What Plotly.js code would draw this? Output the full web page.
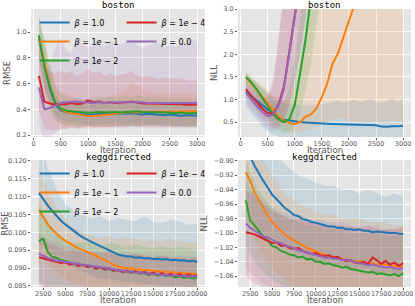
<!DOCTYPE html>
<html>
<head>
<meta charset="utf-8">
<script src="https://cdn.plot.ly/plotly-3.0.1.min.js"></script>
<style>
  html, body { margin: 0; padding: 0; background: #fff; }
  #chart { width: 415px; height: 306px; }
</style>
</head>
<body>
<div id="chart"></div>
<script>
// series labels / colours (matplotlib tab10)
const betaLabels = ['<i>β</i> = 1.0', '<i>β</i> = 1<i>e</i> − 1', '<i>β</i> = 1<i>e</i> − 2', '<i>β</i> = 1<i>e</i> − 4', '<i>β</i> = 0.0'];
const betaColors = ['#1f77b4', '#ff7f0e', '#2ca02c', '#d62728', '#9467bd'];
const legendOrder = [1, 3, 5, 2, 4];

// ---- boston ----
const bostonIter = [100, 200, 300, 400, 500, 600, 700, 800, 900, 1000, 1100, 1200, 1300, 1400, 1500,
    1600, 1700, 1800, 1900, 2000, 2100, 2200, 2300, 2400, 2500, 2600, 2700, 2800, 2900, 3000];

const bostonRmse1 = [0.95, 0.75, 0.56, 0.44, 0.39, 0.38, 0.375, 0.37, 0.365, 0.355, 0.36, 0.365, 0.37, 0.365, 0.37, 0.37, 0.365, 0.37, 0.365, 0.36, 0.365, 0.36, 0.36, 0.355, 0.36, 0.355, 0.35, 0.355, 0.355, 0.352];
const bostonRmse1e1 = [0.96, 0.76, 0.58, 0.46, 0.40, 0.38, 0.37, 0.36, 0.355, 0.347, 0.35, 0.355, 0.36, 0.36, 0.37, 0.37, 0.375, 0.38, 0.375, 0.38, 0.38, 0.385, 0.38, 0.385, 0.38, 0.385, 0.385, 0.38, 0.385, 0.385];
const bostonRmse1e2 = [0.975, 0.73, 0.575, 0.45, 0.407, 0.39, 0.385, 0.38, 0.375, 0.373, 0.375, 0.38, 0.375, 0.38, 0.38, 0.375, 0.38, 0.38, 0.385, 0.38, 0.38, 0.375, 0.38, 0.375, 0.375, 0.37, 0.375, 0.37, 0.37, 0.372];
const bostonRmse1e4 = [0.66, 0.46, 0.445, 0.435, 0.44, 0.44, 0.45, 0.44, 0.445, 0.47, 0.455, 0.46, 0.45, 0.455, 0.45, 0.45, 0.455, 0.46, 0.45, 0.445, 0.445, 0.445, 0.44, 0.445, 0.44, 0.44, 0.44, 0.435, 0.435, 0.438];
const bostonRmse0 = [0.57, 0.40, 0.41, 0.43, 0.45, 0.455, 0.46, 0.46, 0.455, 0.45, 0.45, 0.455, 0.45, 0.455, 0.455, 0.455, 0.46, 0.46, 0.455, 0.455, 0.45, 0.45, 0.45, 0.45, 0.45, 0.45, 0.45, 0.445, 0.45, 0.45];

const bostonRmseHi1 = [1.10, 0.92, 0.68, 0.52, 0.46, 0.45, 0.44, 0.44, 0.44, 0.43, 0.44, 0.44, 0.45, 0.44, 0.45, 0.45, 0.44, 0.45, 0.44, 0.44, 0.44, 0.44, 0.43, 0.43, 0.44, 0.43, 0.43, 0.43, 0.43, 0.43];
const bostonRmseLo1 = [0.80, 0.58, 0.44, 0.36, 0.32, 0.31, 0.30, 0.30, 0.29, 0.28, 0.28, 0.29, 0.29, 0.29, 0.29, 0.29, 0.28, 0.29, 0.28, 0.28, 0.28, 0.28, 0.28, 0.27, 0.28, 0.27, 0.27, 0.27, 0.27, 0.27];
const bostonRmseHi1e1 = [1.12, 0.95, 0.76, 0.60, 0.54, 0.52, 0.50, 0.48, 0.47, 0.46, 0.47, 0.48, 0.49, 0.50, 0.52, 0.53, 0.55, 0.60, 0.58, 0.55, 0.54, 0.53, 0.52, 0.53, 0.52, 0.52, 0.53, 0.52, 0.53, 0.52];
const bostonRmseLo1e1 = [0.80, 0.57, 0.40, 0.32, 0.28, 0.27, 0.26, 0.26, 0.25, 0.25, 0.25, 0.26, 0.26, 0.26, 0.27, 0.27, 0.27, 0.28, 0.27, 0.28, 0.28, 0.28, 0.28, 0.28, 0.28, 0.28, 0.28, 0.28, 0.28, 0.28];
const bostonRmseHi1e2 = [1.14, 0.92, 0.74, 0.58, 0.52, 0.50, 0.49, 0.49, 0.48, 0.48, 0.49, 0.50, 0.49, 0.50, 0.50, 0.49, 0.50, 0.50, 0.51, 0.50, 0.50, 0.49, 0.50, 0.49, 0.49, 0.48, 0.49, 0.48, 0.48, 0.49];
const bostonRmseLo1e2 = [0.81, 0.55, 0.41, 0.32, 0.29, 0.28, 0.28, 0.27, 0.27, 0.27, 0.27, 0.27, 0.27, 0.27, 0.27, 0.27, 0.27, 0.27, 0.27, 0.27, 0.27, 0.27, 0.27, 0.27, 0.27, 0.26, 0.27, 0.26, 0.26, 0.26];
const bostonRmseHi1e4 = [0.92, 0.72, 0.70, 0.68, 0.70, 0.68, 0.70, 0.66, 0.68, 0.72, 0.68, 0.70, 0.66, 0.68, 0.66, 0.67, 0.68, 0.70, 0.66, 0.65, 0.66, 0.65, 0.64, 0.65, 0.64, 0.64, 0.64, 0.63, 0.62, 0.63];
const bostonRmseLo1e4 = [0.40, 0.25, 0.24, 0.24, 0.25, 0.25, 0.26, 0.25, 0.26, 0.27, 0.26, 0.26, 0.26, 0.26, 0.26, 0.26, 0.26, 0.27, 0.26, 0.26, 0.26, 0.26, 0.26, 0.26, 0.26, 0.26, 0.26, 0.26, 0.26, 0.26];
const bostonRmseHi0 = [0.85, 0.70, 0.75, 0.88, 0.96, 0.86, 0.84, 0.96, 0.90, 0.88, 0.90, 0.92, 0.88, 0.93, 0.92, 0.90, 0.93, 0.95, 0.90, 0.88, 0.90, 0.91, 0.92, 0.88, 0.90, 0.89, 0.91, 0.92, 0.94, 0.93];
const bostonRmseLo0 = [0.29, 0.15, 0.17, 0.22, 0.24, 0.25, 0.26, 0.25, 0.26, 0.26, 0.26, 0.26, 0.26, 0.26, 0.26, 0.26, 0.26, 0.26, 0.26, 0.26, 0.26, 0.26, 0.26, 0.26, 0.26, 0.26, 0.26, 0.26, 0.26, 0.26];

const bostonNll1 = [1.17, 1.08, 0.98, 0.88, 0.78, 0.68, 0.60, 0.55, 0.53, 0.51, 0.50, 0.49, 0.48, 0.475, 0.47, 0.465, 0.46, 0.455, 0.45, 0.445, 0.44, 0.435, 0.43, 0.43, 0.43, 0.40, 0.395, 0.41, 0.405, 0.42];
const bostonNll1e1 = [1.48, 1.36, 1.22, 1.07, 0.92, 0.78, 0.63, 0.54, 0.48, 0.46, 0.50, 0.62, 0.67, 0.80, 1.05, 1.35, 1.80, 2.02, 2.35, 2.70, 3.05, 3.45, 3.90, 4.30, 4.80, 5.20, 5.70, 6.10, 6.60, 7.00];
const bostonNll1e2 = [1.50, 1.38, 1.22, 1.03, 0.85, 0.68, 0.56, 0.50, 0.56, 0.87, 1.58, 2.32, 3.25, 4.10, 5.00, 5.90, 6.70, 7.50, 8.30, 9.00, 9.80, 10.5, 11.2, 11.9, 12.6, 13.2, 13.9, 14.5, 15.2, 15.8];
const bostonNll1e4 = [1.23, 1.08, 0.93, 0.80, 0.70, 0.68, 0.88, 1.28, 2.05, 2.85, 3.70, 4.60, 5.50, 6.40, 7.30, 8.10, 9.00, 9.80, 10.6, 11.4, 12.2, 13.0, 13.7, 14.5, 15.2, 16.0, 16.7, 17.4, 18.1, 18.8];
const bostonNll0 = [1.15, 1.00, 0.86, 0.73, 0.63, 0.66, 0.85, 1.22, 2.00, 2.80, 3.60, 4.50, 5.40, 6.30, 7.10, 8.00, 8.80, 9.60, 10.4, 11.2, 12.0, 12.8, 13.5, 14.3, 15.0, 15.8, 16.5, 17.2, 17.9, 18.6];

const bostonNllHi1 = [1.55, 1.45, 1.35, 1.25, 1.15, 1.05, 0.98, 0.93, 0.90, 0.88, 0.86, 0.86, 0.87, 0.88, 0.90, 0.92, 0.95, 0.97, 0.93, 0.96, 1.00, 0.94, 0.98, 1.02, 0.95, 0.92, 0.97, 1.05, 0.95, 1.02];
const bostonNllLo1 = [0.85, 0.70, 0.55, 0.40, 0.30, 0.22, 0.18, 0.16, 0.15, 0.15, 0.15, 0.15, 0.15, 0.15, 0.15, 0.15, 0.15, 0.15, 0.15, 0.15, 0.15, 0.15, 0.15, 0.15, 0.15, 0.15, 0.15, 0.15, 0.15, 0.15];
const bostonNllHi1e1 = [1.60, 1.50, 1.42, 1.32, 1.22, 1.12, 1.02, 0.98, 1.05, 1.30, 1.80, 2.60, 3.50, 4.50, 5.50, 6.50, 7.50, 8.50, 9.50, 10.5, 11.5, 12.5, 13.5, 14.5, 15.5, 16.5, 17.5, 18.5, 19.5, 20.5];
const bostonNllLo1e1 = [1.35, 1.20, 1.02, 0.85, 0.68, 0.52, 0.40, 0.32, 0.28, 0.26, 0.28, 0.32, 0.36, 0.40, 0.45, 0.50, 0.55, 0.60, 0.55, 0.50, 0.52, 0.50, 0.48, 0.50, 0.52, 0.48, 0.50, 0.52, 0.50, 0.50];
const bostonNllHi1e2 = [1.62, 1.50, 1.38, 1.25, 1.12, 1.00, 0.92, 0.95, 1.25, 1.90, 2.80, 3.80, 5.00, 6.00, 7.00, 8.00, 9.00, 10.0, 11.0, 12.0, 13.0, 14.0, 15.0, 16.0, 17.0, 18.0, 19.0, 20.0, 21.0, 22.0];
const bostonNllLo1e2 = [1.38, 1.25, 1.06, 0.82, 0.60, 0.42, 0.30, 0.25, 0.28, 0.40, 0.70, 1.20, 1.80, 2.60, 3.50, 4.50, 5.40, 6.30, 7.20, 8.00, 8.80, 9.60, 10.4, 11.2, 12.0, 12.8, 13.6, 14.4, 15.2, 16.0];
const bostonNllHi1e4 = [1.40, 1.28, 1.15, 1.05, 1.05, 1.40, 2.40, 3.50, 4.60, 5.60, 6.60, 7.60, 8.60, 9.60, 10.6, 11.6, 12.6, 13.6, 14.6, 15.6, 16.6, 17.6, 18.6, 19.6, 20.6, 21.6, 22.6, 23.6, 24.6, 25.6];
const bostonNllLo1e4 = [1.05, 0.88, 0.72, 0.58, 0.45, 0.35, 0.40, 0.55, 0.90, 1.40, 2.00, 2.80, 3.60, 4.40, 5.20, 6.00, 6.80, 7.60, 8.40, 9.20, 10.0, 10.8, 11.6, 12.4, 13.2, 14.0, 14.8, 15.6, 16.4, 17.2];
const bostonNllHi0 = [1.35, 1.22, 1.10, 1.00, 1.00, 1.30, 2.20, 3.30, 4.40, 5.40, 6.40, 7.40, 8.40, 9.40, 10.4, 11.4, 12.4, 13.4, 14.4, 15.4, 16.4, 17.4, 18.4, 19.4, 20.4, 21.4, 22.4, 23.4, 24.4, 25.4];
const bostonNllLo0 = [0.95, 0.78, 0.62, 0.48, 0.36, 0.30, 0.35, 0.50, 0.85, 1.35, 2.00, 2.80, 3.60, 4.40, 5.20, 6.00, 6.80, 7.60, 8.40, 9.20, 10.0, 10.8, 11.6, 12.4, 13.2, 14.0, 14.8, 15.6, 16.4, 17.2];

// ---- keggdirected ----
const keggIter = [2000, 2500, 3000, 3500, 4000, 4500, 5000, 5500, 6000, 6500, 7000, 7500, 8000, 8500, 9000, 9500, 10000, 10500, 11000,
    11500, 12000, 12500, 13000, 13500, 14000, 14500, 15000, 15500, 16000, 16500, 17000, 17500, 18000, 18500, 19000, 19500, 20000];
const keggBandIter = [2000, 3000, 4000, 5000, 6000, 7000, 8000, 9000, 10000, 11000, 12000, 13000, 14000, 15000, 16000, 17000, 18000, 19000, 20000];

const keggRmse1 = [0.1110, 0.1092, 0.1075, 0.1060, 0.1046, 0.1033, 0.1022, 0.1012, 0.1002, 0.0994, 0.0986, 0.0979, 0.0972, 0.0967, 0.0961, 0.0956, 0.0950, 0.0944, 0.0938,
    0.0935, 0.0932, 0.0932, 0.0929, 0.0930, 0.0927, 0.0928, 0.0925, 0.0926, 0.0924, 0.0925, 0.0922, 0.0923, 0.0921, 0.0922, 0.0919, 0.0920, 0.0917];
const keggRmse1e1 = [0.1062, 0.1040, 0.1022, 0.1008, 0.0996, 0.0985, 0.0976, 0.0968, 0.0962, 0.0955, 0.0951, 0.0945, 0.0940, 0.0935, 0.0928, 0.0922, 0.0916, 0.0910, 0.0903,
    0.0902, 0.0899, 0.0900, 0.0896, 0.0897, 0.0894, 0.0895, 0.0891, 0.0892, 0.0889, 0.0891, 0.0887, 0.0888, 0.0885, 0.0887, 0.0884, 0.0885, 0.0882];
const keggRmse1e2 = [0.0975, 0.0982, 0.0945, 0.0932, 0.0928, 0.0922, 0.0920, 0.0915, 0.0913, 0.0908, 0.0910, 0.0904, 0.0905, 0.0899, 0.0901, 0.0896, 0.0897, 0.0892, 0.0894,
    0.0889, 0.0891, 0.0886, 0.0889, 0.0884, 0.0887, 0.0881, 0.0884, 0.0879, 0.0882, 0.0878, 0.0880, 0.0874, 0.0877, 0.0872, 0.0875, 0.0871, 0.0873];
const keggRmse1e4 = [0.0930, 0.0927, 0.0925, 0.0921, 0.0919, 0.0914, 0.0916, 0.0910, 0.0912, 0.0906, 0.0909, 0.0903, 0.0905, 0.0899, 0.0902, 0.0896, 0.0899, 0.0893, 0.0895,
    0.0890, 0.0892, 0.0888, 0.0891, 0.0886, 0.0889, 0.0884, 0.0887, 0.0882, 0.0886, 0.0880, 0.0884, 0.0879, 0.0883, 0.0877, 0.0882, 0.0878, 0.0880];
const keggRmse0 = [0.0940, 0.0934, 0.0928, 0.0925, 0.0920, 0.0921, 0.0916, 0.0917, 0.0911, 0.0913, 0.0907, 0.0909, 0.0903, 0.0905, 0.0900, 0.0902, 0.0896, 0.0898, 0.0892,
    0.0894, 0.0889, 0.0891, 0.0886, 0.0888, 0.0884, 0.0886, 0.0882, 0.0884, 0.0880, 0.0882, 0.0878, 0.0881, 0.0877, 0.0879, 0.0876, 0.0878, 0.0875];

const keggRmseHi1 = [0.125, 0.118, 0.112, 0.108, 0.106, 0.105, 0.104, 0.1045, 0.103, 0.104, 0.1035, 0.103, 0.1045, 0.103, 0.1025, 0.1035, 0.103, 0.102, 0.1025];
const keggRmseLo1 = [0.097, 0.095, 0.093, 0.091, 0.090, 0.089, 0.088, 0.087, 0.087, 0.0865, 0.086, 0.086, 0.0855, 0.0855, 0.085, 0.085, 0.085, 0.0845, 0.0845];
const keggRmseHi1e1 = [0.118, 0.112, 0.107, 0.104, 0.101, 0.100, 0.099, 0.0985, 0.099, 0.098, 0.0985, 0.098, 0.0975, 0.098, 0.0975, 0.098, 0.0975, 0.097, 0.0975];
const keggRmseLo1e1 = [0.094, 0.091, 0.089, 0.087, 0.086, 0.085, 0.084, 0.0835, 0.083, 0.083, 0.0825, 0.0825, 0.082, 0.082, 0.082, 0.0815, 0.0815, 0.0815, 0.081];
const keggRmseHi1e2 = [0.108, 0.103, 0.100, 0.098, 0.097, 0.097, 0.0975, 0.096, 0.097, 0.0965, 0.096, 0.0965, 0.096, 0.0955, 0.096, 0.0955, 0.096, 0.0955, 0.095];
const keggRmseLo1e2 = [0.086, 0.084, 0.083, 0.082, 0.082, 0.0815, 0.081, 0.081, 0.0805, 0.0805, 0.080, 0.080, 0.080, 0.0795, 0.0795, 0.079, 0.079, 0.079, 0.0785];
const keggRmseHi1e4 = [0.099, 0.097, 0.096, 0.095, 0.095, 0.0945, 0.0945, 0.094, 0.0945, 0.094, 0.0935, 0.094, 0.0935, 0.093, 0.0935, 0.093, 0.093, 0.0925, 0.093];
const keggRmseLo1e4 = [0.085, 0.084, 0.083, 0.082, 0.0815, 0.081, 0.081, 0.0805, 0.080, 0.080, 0.0795, 0.0795, 0.079, 0.079, 0.0785, 0.0785, 0.078, 0.078, 0.078];
const keggRmseHi0 = [0.100, 0.098, 0.097, 0.096, 0.0955, 0.095, 0.095, 0.0945, 0.095, 0.094, 0.0945, 0.094, 0.0935, 0.094, 0.0935, 0.093, 0.0935, 0.093, 0.093];
const keggRmseLo0 = [0.086, 0.084, 0.083, 0.082, 0.0815, 0.081, 0.0805, 0.080, 0.080, 0.0795, 0.0795, 0.079, 0.079, 0.0785, 0.0785, 0.078, 0.078, 0.0775, 0.0775];

const keggNll1 = [-0.885, -0.895, -0.907, -0.918, -0.928, -0.937, -0.947, -0.953, -0.960, -0.966, -0.970, -0.975, -0.977, -0.981, -0.982, -0.985, -0.986, -0.988, -0.989,
    -0.991, -0.991, -0.993, -0.993, -0.995, -0.995, -0.996, -0.995, -0.997, -0.997, -0.999, -0.998, -0.999, -0.999, -1.000, -1.000, -1.001, -1.002];
const keggNll1e1 = [-0.916, -0.928, -0.944, -0.955, -0.966, -0.976, -0.985, -0.991, -0.998, -1.003, -1.007, -1.011, -1.014, -1.017, -1.021, -1.023, -1.026, -1.028, -1.031,
    -1.032, -1.034, -1.036, -1.036, -1.038, -1.038, -1.040, -1.039, -1.041, -1.042, -1.042, -1.044, -1.043, -1.045, -1.046, -1.045, -1.047, -1.047];
const keggNll1e2 = [-0.955, -0.983, -0.990, -0.998, -1.005, -1.010, -1.018, -1.020, -1.025, -1.027, -1.030, -1.031, -1.034, -1.033, -1.037, -1.036, -1.040, -1.040, -1.043,
    -1.042, -1.045, -1.046, -1.048, -1.047, -1.050, -1.051, -1.052, -1.053, -1.055, -1.054, -1.057, -1.056, -1.058, -1.059, -1.057, -1.060, -1.056];
const keggNll1e4 = [-0.999, -1.000, -1.002, -1.005, -1.008, -1.010, -1.014, -1.013, -1.018, -1.017, -1.021, -1.022, -1.021, -1.025, -1.027, -1.029, -1.028, -1.031, -1.032,
    -1.031, -1.034, -1.033, -1.037, -1.039, -1.038, -1.041, -1.042, -1.040, -1.043, -1.034, -1.038, -1.043, -1.039, -1.044, -1.041, -1.046, -1.042];
const keggNll0 = [-0.987, -0.993, -0.997, -1.001, -1.005, -1.006, -1.010, -1.013, -1.014, -1.018, -1.019, -1.022, -1.024, -1.025, -1.028, -1.029, -1.031, -1.032, -1.034,
    -1.034, -1.036, -1.036, -1.038, -1.037, -1.039, -1.040, -1.042, -1.043, -1.045, -1.044, -1.046, -1.047, -1.048, -1.047, -1.049, -1.050, -1.049];

const keggNllHi1 = [-0.80, -0.83, -0.86, -0.88, -0.90, -0.91, -0.92, -0.925, -0.93, -0.935, -0.935, -0.94, -0.94, -0.945, -0.94, -0.945, -0.95, -0.945, -0.95];
const keggNllLo1 = [-0.98, -0.99, -1.00, -1.01, -1.02, -1.025, -1.03, -1.035, -1.04, -1.04, -1.045, -1.045, -1.05, -1.05, -1.05, -1.055, -1.055, -1.055, -1.06];
const keggNllHi1e1 = [-0.86, -0.88, -0.90, -0.92, -0.94, -0.95, -0.96, -0.965, -0.97, -0.975, -0.975, -0.98, -0.98, -0.98, -0.985, -0.985, -0.985, -0.99, -0.99];
const keggNllLo1e1 = [-0.98, -1.01, -1.03, -1.05, -1.06, -1.07, -1.075, -1.08, -1.08, -1.085, -1.085, -1.085, -1.09, -1.09, -1.09, -1.09, -1.09, -1.095, -1.095];
const keggNllHi1e2 = [-0.90, -0.93, -0.95, -0.965, -0.975, -0.98, -0.985, -0.99, -0.99, -0.995, -0.995, -0.995, -1.00, -1.00, -1.00, -1.00, -1.005, -1.005, -1.005];
const keggNllLo1e2 = [-1.02, -1.04, -1.055, -1.065, -1.07, -1.08, -1.085, -1.09, -1.09, -1.095, -1.095, -1.10, -1.10, -1.10, -1.105, -1.105, -1.11, -1.11, -1.11];
const keggNllHi1e4 = [-0.94, -0.95, -0.96, -0.97, -0.975, -0.98, -0.98, -0.985, -0.985, -0.99, -0.99, -0.99, -0.99, -0.995, -0.99, -0.995, -0.995, -0.995, -0.99];
const keggNllLo1e4 = [-1.06, -1.07, -1.075, -1.08, -1.08, -1.085, -1.085, -1.09, -1.09, -1.09, -1.095, -1.095, -1.095, -1.10, -1.095, -1.10, -1.10, -1.10, -1.10];
const keggNllHi0 = [-0.93, -0.945, -0.955, -0.965, -0.97, -0.975, -0.975, -0.98, -0.98, -0.985, -0.985, -0.985, -0.99, -0.99, -0.99, -0.99, -0.995, -0.995, -0.995];
const keggNllLo0 = [-1.05, -1.06, -1.07, -1.075, -1.08, -1.08, -1.085, -1.085, -1.09, -1.09, -1.09, -1.095, -1.095, -1.095, -1.10, -1.10, -1.10, -1.10, -1.10];

const panels = [
    { xa: 'x', ya: 'y', iter: bostonIter, bandIter: bostonIter, legend: 'legend',
      lines: [bostonRmse1, bostonRmse1e1, bostonRmse1e2, bostonRmse1e4, bostonRmse0],
      hi: [bostonRmseHi1, bostonRmseHi1e1, bostonRmseHi1e2, bostonRmseHi1e4, bostonRmseHi0],
      lo: [bostonRmseLo1, bostonRmseLo1e1, bostonRmseLo1e2, bostonRmseLo1e4, bostonRmseLo0] },
    { xa: 'x2', ya: 'y2', iter: bostonIter, bandIter: bostonIter, legend: null,
      lines: [bostonNll1, bostonNll1e1, bostonNll1e2, bostonNll1e4, bostonNll0],
      hi: [bostonNllHi1, bostonNllHi1e1, bostonNllHi1e2, bostonNllHi1e4, bostonNllHi0],
      lo: [bostonNllLo1, bostonNllLo1e1, bostonNllLo1e2, bostonNllLo1e4, bostonNllLo0] },
    { xa: 'x3', ya: 'y3', iter: keggIter, bandIter: keggBandIter, legend: 'legend2',
      lines: [keggRmse1, keggRmse1e1, keggRmse1e2, keggRmse1e4, keggRmse0],
      hi: [keggRmseHi1, keggRmseHi1e1, keggRmseHi1e2, keggRmseHi1e4, keggRmseHi0],
      lo: [keggRmseLo1, keggRmseLo1e1, keggRmseLo1e2, keggRmseLo1e4, keggRmseLo0] },
    { xa: 'x4', ya: 'y4', iter: keggIter, bandIter: keggBandIter, legend: null,
      lines: [keggNll1, keggNll1e1, keggNll1e2, keggNll1e4, keggNll0],
      hi: [keggNllHi1, keggNllHi1e1, keggNllHi1e2, keggNllHi1e4, keggNllHi0],
      lo: [keggNllLo1, keggNllLo1e1, keggNllLo1e2, keggNllLo1e4, keggNllLo0] }
];

function hexToRgba(hex, alpha) {
    const r = parseInt(hex.slice(1, 3), 16);
    const g = parseInt(hex.slice(3, 5), 16);
    const b = parseInt(hex.slice(5, 7), 16);
    return `rgba(${r}, ${g}, ${b}, ${alpha})`;
}

const traces = [];
panels.forEach(p => {
    // shaded bands first, lines on top
    p.hi.forEach((hi, i) => {
        const xs = p.bandIter;
        traces.push({
            x: xs.concat(xs.slice().reverse()),
            y: hi.concat(p.lo[i].slice().reverse()),
            xaxis: p.xa, yaxis: p.ya,
            mode: 'lines', fill: 'toself',
            fillcolor: hexToRgba(betaColors[i], 0.14),
            line: { width: 0, color: betaColors[i] },
            hoverinfo: 'skip', showlegend: false
        });
    });
    p.lines.forEach((ys, i) => {
        const t = {
            x: p.iter, y: ys,
            xaxis: p.xa, yaxis: p.ya,
            mode: 'lines', name: betaLabels[i],
            line: { color: betaColors[i], width: 2 },
            showlegend: p.legend !== null
        };
        if (p.legend) {
            t.legend = p.legend;
            t.legendrank = legendOrder[i];
        }
        traces.push(t);
    });
});

const tickFont = { family: 'DejaVu Sans', size: 6.5, color: '#555' };
const labelFont = { family: 'DejaVu Sans', size: 8.5, color: '#555' };

function axis(extra) {
    return Object.assign({
        showgrid: true, gridcolor: '#ffffff', gridwidth: 1,
        zeroline: false, showline: false,
        ticks: 'outside', ticklen: 2, tickcolor: '#555', tickwidth: 1,
        tickangle: 0, tickfont: tickFont
    }, extra);
}

// plot area: px 31..411 wide (380px), full height
const padL = 31, padR = 4, areaW = 415 - padL - padR;
const px = v => (v - padL) / areaW;
const py = v => 1 - v / 306;
const leftDom = [px(31), px(205)];
const rightDom = [px(238), px(411)];
const topDom = [py(137), py(9)];
const botDom = [py(287), py(160)];
const leftMid = (leftDom[0] + leftDom[1]) / 2;
const rightMid = (rightDom[0] + rightDom[1]) / 2;

// legend sits just left of the paper edge so it wraps at half the figure width (2 columns)
const legendBase = {
    x: -0.001, orientation: 'h', xanchor: 'left', yanchor: 'top',
    bgcolor: 'rgba(0,0,0,0)', borderwidth: 0,
    entrywidth: 38, entrywidthmode: 'pixels', indentation: 4,
    font: { family: 'DejaVu Sans', size: 8, color: '#000' }
};

const titleFont = { family: 'DejaVu Sans Mono', size: 9, color: '#000' };
const xTicksBoston = [0, 500, 1000, 1500, 2000, 2500, 3000];
const xTicksKegg = [2500, 5000, 7500, 10000, 12500, 15000, 17500, 20000];

const layout = {
    width: 415, height: 306,
    margin: { l: padL, r: padR, t: 0, b: 0, autoexpand: false },
    paper_bgcolor: '#ffffff', plot_bgcolor: '#e5e5e5',
    xaxis: axis({ domain: leftDom, anchor: 'y', range: [-45, 3145], tickvals: xTicksBoston, ticklabelstandoff: -2 }),
    yaxis: axis({ domain: topDom, anchor: 'x', range: [0.185, 1.18], tickvals: [0.2, 0.4, 0.6, 0.8, 1.0], tickformat: '.1f',
        title: { text: 'RMSE', font: labelFont, standoff: 4 } }),
    xaxis2: axis({ domain: rightDom, anchor: 'y2', range: [-45, 3145], tickvals: xTicksBoston, ticklabelstandoff: -2 }),
    yaxis2: axis({ domain: topDom, anchor: 'x2', range: [0.17, 3.0], tickvals: [0.5, 1.0, 1.5, 2.0, 2.5, 3.0], tickformat: '.1f',
        title: { text: 'NLL', font: labelFont, standoff: 4 } }),
    xaxis3: axis({ domain: leftDom, anchor: 'y3', range: [1100, 20900], tickvals: xTicksKegg, tickformat: 'd', ticklabelstandoff: -2 }),
    yaxis3: axis({ domain: botDom, anchor: 'x3', range: [0.0847, 0.1202], tickvals: [0.085, 0.09, 0.095, 0.1, 0.105, 0.11, 0.115, 0.12], tickformat: '.3f',
        title: { text: 'RMSE', font: labelFont, standoff: 4 } }),
    xaxis4: axis({ domain: rightDom, anchor: 'y4', range: [1100, 20900], tickvals: xTicksKegg, tickformat: 'd', ticklabelstandoff: -2 }),
    yaxis4: axis({ domain: botDom, anchor: 'x4', range: [-1.075, -0.899], tickvals: [-1.06, -1.04, -1.02, -1.0, -0.98, -0.96, -0.94, -0.92, -0.9], tickformat: '.2f',
        title: { text: 'NLL', font: labelFont, standoff: 4 } }),
    legend: Object.assign({ y: py(8) }, legendBase),
    legend2: Object.assign({ y: py(159) }, legendBase),
    annotations: [
        // panel titles
        { text: 'boston', x: leftMid, y: py(5), font: titleFont },
        { text: 'boston', x: rightMid, y: py(5), font: titleFont },
        { text: 'keggdirected', x: leftMid, y: py(157.5), font: titleFont },
        { text: 'keggdirected', x: rightMid, y: py(157.5), font: titleFont },
        // x-axis labels (placed by hand, the matplotlib layout packs them tight)
        { text: 'Iteration', x: leftMid, y: py(150), font: labelFont },
        { text: 'Iteration', x: rightMid, y: py(150), font: labelFont },
        { text: 'Iteration', x: leftMid, y: py(300), font: labelFont },
        { text: 'Iteration', x: rightMid, y: py(300), font: labelFont }
    ].map(a => Object.assign(a, { xref: 'paper', yref: 'paper', showarrow: false, xanchor: 'center', yanchor: 'middle' }))
};

Plotly.newPlot('chart', traces, layout, { displayModeBar: false, staticPlot: true });
</script>
</body>
</html>
